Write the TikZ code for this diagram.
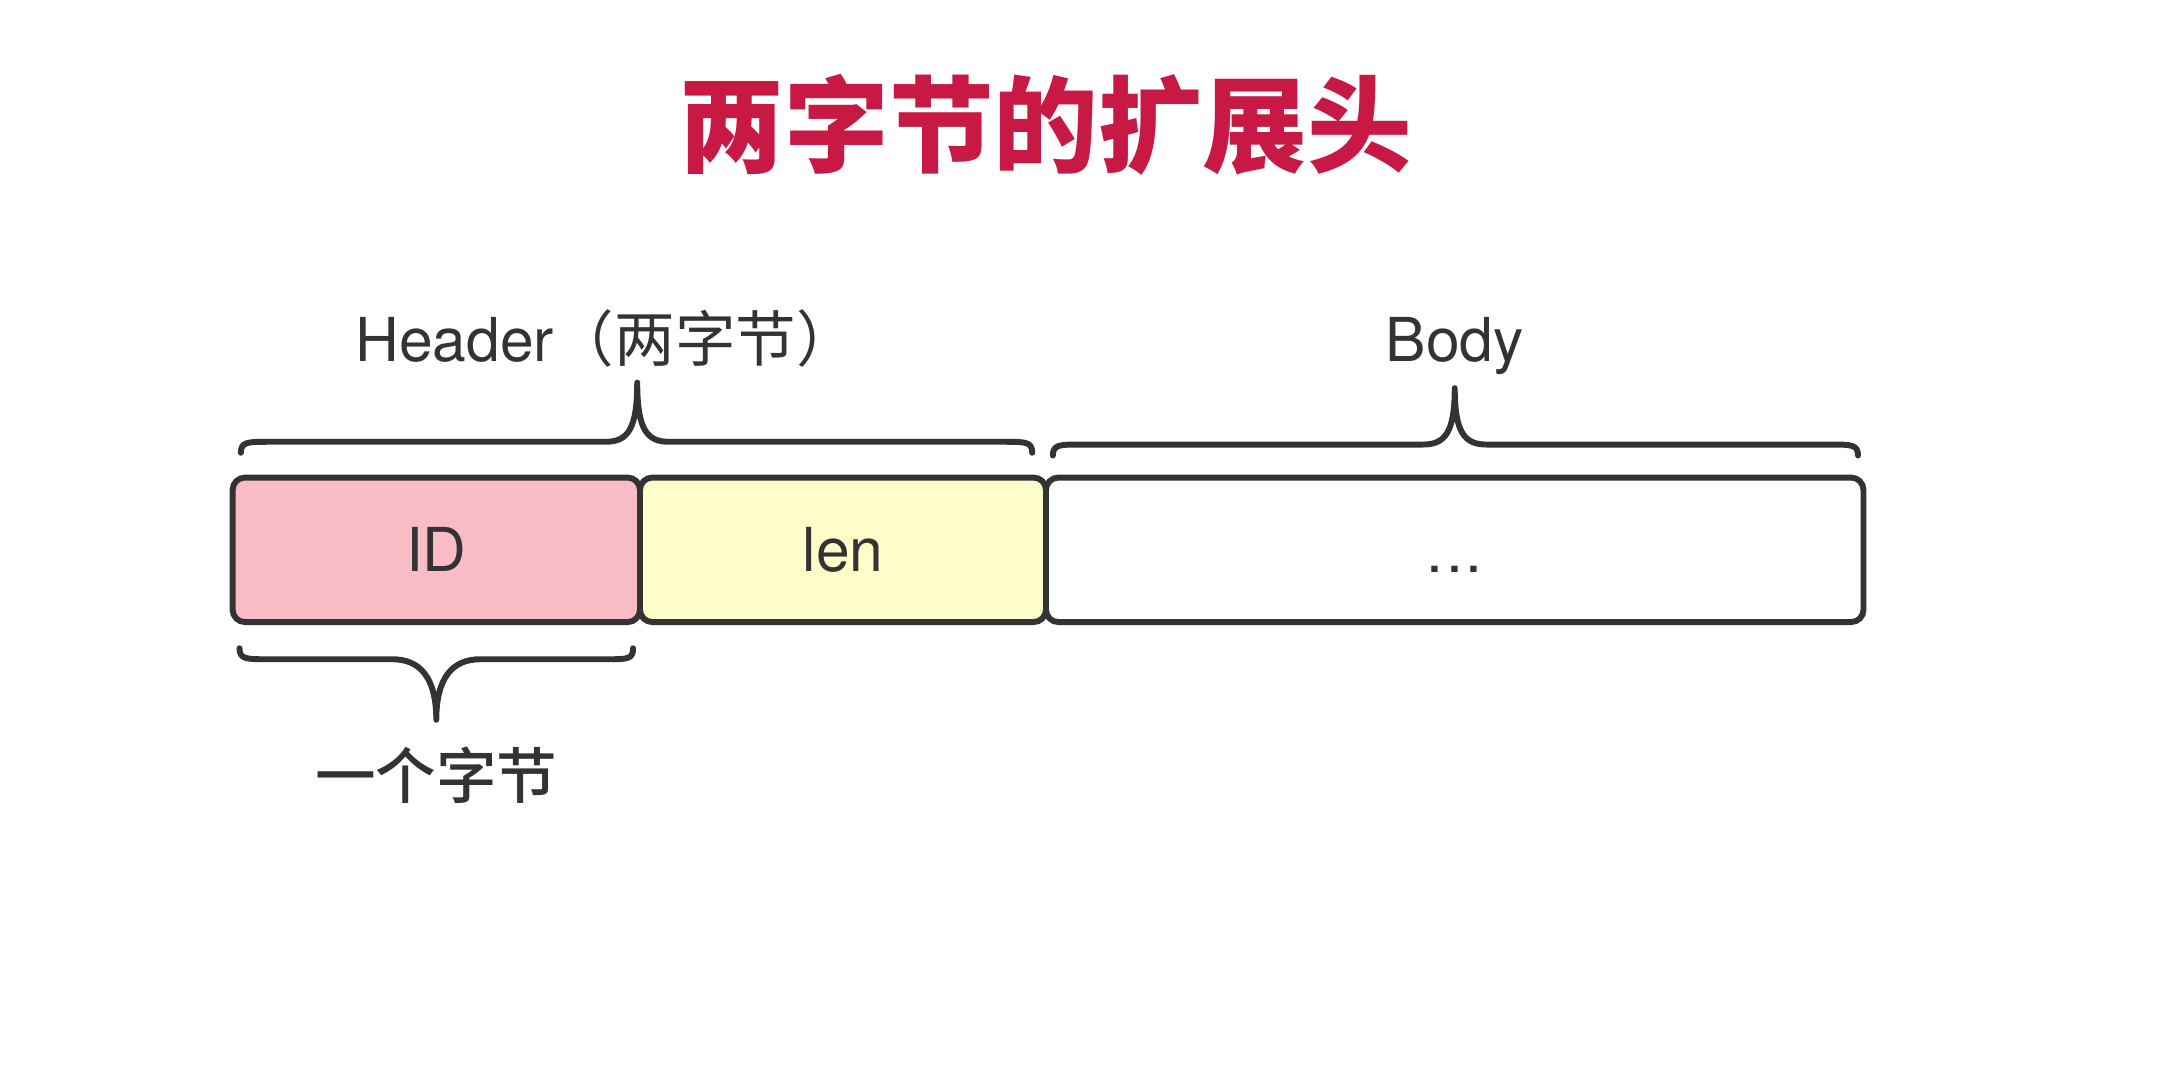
\documentclass[tikz,border=0pt]{standalone}
\usepackage{fontspec}
\setmainfont{TeX Gyre Heros}
\newfontfamily\cjk{Noto Sans CJK SC}
\newfontfamily\cjkm{Noto Sans CJK SC Medium}
\newfontfamily\cjkb{Noto Sans CJK SC Black}
\definecolor{titlered}{RGB}{200,24,68}
\definecolor{ink}{RGB}{51,51,51}
\definecolor{idpink}{RGB}{249,187,196}
\definecolor{lenyellow}{RGB}{252,253,200}
\tikzset{
  field/.style={draw=ink, line width=4.3pt, rounded corners=9pt, minimum height=105pt, inner sep=0pt, text=ink, font=\fontsize{44}{50}\selectfont},
  bracepath/.style={draw=ink, line width=4.3pt, line cap=round, line join=round},
  lbl/.style={text=ink, font=\fontsize{44}{50}\selectfont, inner sep=0pt}
}
\begin{document}
\begin{tikzpicture}[x=1pt,y=-1pt]
\useasboundingbox (0,0) rectangle (1568,776);
\fill[white] (0,0) rectangle (1568,776);

% title
\node[text=titlered, inner sep=0pt, font=\cjkb\fontsize{76}{80}\selectfont] (title) at (760,91) {两字节的扩展头};

% fields
\node[field, fill=idpink, minimum width=296pt] (id) at (317,399.5) {ID};
\node[field, fill=lenyellow, minimum width=295pt] (len) at (612.5,399.5) {len};
\node[field, fill=white, minimum width=594pt] (body) at (1057,399.5) {};
\node[lbl, anchor=base] (dots) at (1057,416) {.\hspace{2pt}.\hspace{2pt}.};

% labels
\node[lbl, anchor=base west] (hdr) at (258,263) {Header{\cjk （两字节）}};
\node[lbl, anchor=base] (bodylbl) at (1057,263) {Body};
\node[lbl, anchor=base, font=\cjkm\fontsize{44}{50}\selectfont] (onebyte) at (317,580) {一个字节};

% header brace
\draw[bracepath] (175,329) .. controls (175,321) and (180,321) .. (195,321)
  -- (440,321) .. controls (456,321) and (463,312) .. (463,278)
  .. controls (463,312) and (470,321) .. (486,321)
  -- (730,321) .. controls (745,321) and (750,321) .. (750,329);
% body brace
\draw[bracepath] (765,331) .. controls (765,323) and (770,323) .. (785,323)
  -- (1034,323) .. controls (1050,323) and (1057,314) .. (1057,282)
  .. controls (1057,314) and (1064,323) .. (1080,323)
  -- (1330,323) .. controls (1345,323) and (1350,323) .. (1350,331);
% one-byte brace
\draw[bracepath] (174,471) .. controls (174,479) and (179,479) .. (194,479)
  -- (285,479) .. controls (305,479) and (317,492) .. (317,523)
  .. controls (317,492) and (329,479) .. (349,479)
  -- (441,479) .. controls (456,479) and (460,479) .. (460,471);
\end{tikzpicture}
\end{document}
